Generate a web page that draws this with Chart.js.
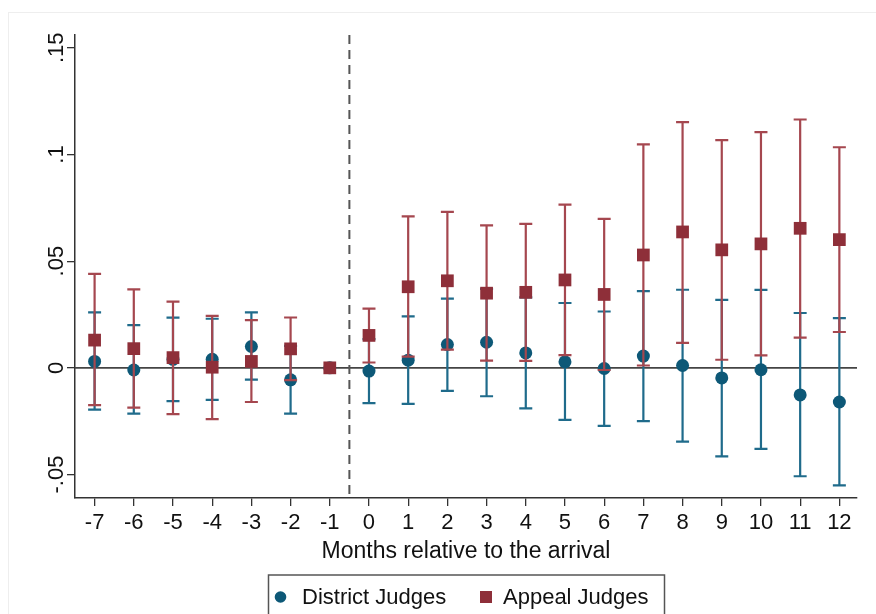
<!DOCTYPE html>
<html>
<head>
<meta charset="utf-8">
<script src="https://cdn.jsdelivr.net/npm/chart.js@4"></script>
<style>
  html, body { margin: 0; padding: 0; background: #fff; }
  #wrap { width: 876px; height: 614px; }
</style>
</head>
<body>
<div id="wrap"><canvas id="chart" width="876" height="614"></canvas></div>
<script>
const months = [-7, -6, -5, -4, -3, -2, -1, 0, 1, 2, 3, 4, 5, 6, 7, 8, 9, 10, 11, 12];
const yTicks = [-0.05, 0, 0.05, 0.1, 0.15];

const districtCoef = [0.003, -0.001, 0.004, 0.004, 0.010, -0.0056, 0, -0.0015, 0.0036, 0.0109, 0.012, 0.007, 0.0028, -0.0003, 0.0055, 0.0011, -0.0047, -0.0009, -0.0127, -0.016];
const districtLow = [-0.0196, -0.0215, -0.0156, -0.015, -0.0055, -0.0215, 0, -0.0165, -0.0169, -0.0108, -0.0133, -0.019, -0.0244, -0.0272, -0.025, -0.0346, -0.0415, -0.038, -0.0508, -0.0551];
const districtHigh = [0.026, 0.020, 0.0235, 0.023, 0.026, 0.0103, 0, 0.0135, 0.0241, 0.0324, 0.037, 0.033, 0.0304, 0.0264, 0.036, 0.0366, 0.0319, 0.0365, 0.0257, 0.0233];

const appealCoef = [0.013, 0.009, 0.0048, 0.0003, 0.003, 0.0089, 0, 0.0152, 0.038, 0.0408, 0.035, 0.0354, 0.0412, 0.0344, 0.0529, 0.0637, 0.0553, 0.0581, 0.0654, 0.0601];
const appealLow = [-0.0175, -0.0186, -0.0217, -0.024, -0.016, -0.0058, 0, 0.0025, 0.0053, 0.0085, 0.0034, 0.0033, 0.006, -0.001, 0.0011, 0.0117, 0.0038, 0.0058, 0.0142, 0.0168];
const appealHigh = [0.044, 0.0368, 0.031, 0.0244, 0.0224, 0.0236, 0, 0.0278, 0.071, 0.0731, 0.0668, 0.0675, 0.0765, 0.0698, 0.1047, 0.1152, 0.1067, 0.1105, 0.1164, 0.1034];

const FONT = "'Liberation Sans', Arial, sans-serif";

// confidence intervals, drawn just before each dataset's markers
const ciBars = [
    { low: districtLow, high: districtHigh, color: '#1f6b8b' },
    { low: appealLow, high: appealHigh, color: '#a5474f' }
];

const refLines = {
    id: 'refLines',
    beforeDatasetsDraw(chart) {
        const { ctx, chartArea, scales } = chart;
        const y0 = scales.y.getPixelForValue(0);
        const xd = scales.x.getPixelForValue(-0.5);
        ctx.save();
        ctx.strokeStyle = '#444';
        ctx.lineWidth = 1.6;
        ctx.beginPath();
        ctx.moveTo(chartArea.left, y0);
        ctx.lineTo(chartArea.right, y0);
        ctx.stroke();
        ctx.setLineDash([9, 6]);
        ctx.lineWidth = 2;
        ctx.strokeStyle = '#555';
        ctx.beginPath();
        ctx.moveTo(xd, chartArea.top);
        ctx.lineTo(xd, chartArea.bottom);
        ctx.stroke();
        ctx.restore();
    },
    beforeDatasetDraw(chart, args) {
        const bars = ciBars[args.index];
        const { ctx, scales } = chart;
        ctx.save();
        ctx.strokeStyle = bars.color;
        ctx.lineWidth = 2.2;
        months.forEach((m, i) => {
            if (bars.low[i] === bars.high[i]) return;
            const x = scales.x.getPixelForValue(m);
            const yl = scales.y.getPixelForValue(bars.low[i]);
            const yh = scales.y.getPixelForValue(bars.high[i]);
            ctx.beginPath();
            ctx.moveTo(x, yl);
            ctx.lineTo(x, yh);
            ctx.moveTo(x - 6.5, yl);
            ctx.lineTo(x + 6.5, yl);
            ctx.moveTo(x - 6.5, yh);
            ctx.lineTo(x + 6.5, yh);
            ctx.stroke();
        });
        ctx.restore();
    },
    afterDraw(chart) {
        const { ctx } = chart;
        const ds = chart.data.datasets;
        ctx.save();
        // faint outer frame
        ctx.strokeStyle = '#eeeeee';
        ctx.lineWidth = 1;
        ctx.strokeRect(8.5, 12.5, 880, 620);

        // legend with frame, cut by the bottom edge like the original
        const top = chart.chartArea.bottom + 77;
        const cy = top + 22;
        ctx.strokeStyle = '#555';
        ctx.lineWidth = 1.5;
        ctx.strokeRect(268.5, top, 396, 60);

        ctx.fillStyle = ds[0].backgroundColor;
        ctx.beginPath();
        ctx.arc(280.5, cy, 5.8, 0, Math.PI * 2);
        ctx.fill();
        ctx.fillStyle = ds[1].backgroundColor;
        ctx.fillRect(480, cy - 6, 12, 12);

        ctx.fillStyle = '#111';
        ctx.font = '22px ' + FONT;
        ctx.textBaseline = 'middle';
        ctx.textAlign = 'left';
        ctx.fillText(ds[0].label, 302, cy + 1);
        ctx.fillText(ds[1].label, 503, cy + 1);
        ctx.restore();
    }
};

new Chart(document.getElementById('chart').getContext('2d'), {
    type: 'scatter',
    data: {
        datasets: [
            {
                label: 'District Judges',
                data: months.map((m, i) => ({ x: m, y: districtCoef[i] })),
                pointStyle: 'circle',
                pointRadius: 6.5,
                backgroundColor: '#0d5877',
                borderColor: '#0d5877',
                borderWidth: 0,
                order: 1
            },
            {
                label: 'Appeal Judges',
                data: months.map((m, i) => ({ x: m, y: appealCoef[i] })),
                pointStyle: 'rect',
                pointRadius: 9,
                backgroundColor: '#8e2f39',
                borderColor: '#8e2f39',
                borderWidth: 0,
                order: 0
            }
        ]
    },
    options: {
        responsive: false,
        animation: false,
        layout: { padding: { top: 35, right: 19, left: 0, bottom: 40 } },
        plugins: {
            tooltip: { enabled: false },
            legend: { display: false }
        },
        scales: {
            x: {
                type: 'linear',
                min: -7.5,
                max: 12.45,
                afterBuildTicks: scale => { scale.ticks = months.map(v => ({ value: v })); },
                afterFit: scale => { scale.height = 76; },
                grid: { drawOnChartArea: false, drawTicks: true, tickLength: 8, color: '#333', lineWidth: 1.3 },
                border: { display: true, color: '#333', width: 1.5 },
                ticks: {
                    color: '#111',
                    padding: 4,
                    maxRotation: 0,
                    font: { family: FONT, size: 22 },
                    callback: v => String(v)
                },
                title: {
                    display: true,
                    text: 'Months relative to the arrival',
                    color: '#111',
                    padding: { top: 0, bottom: 9 },
                    font: { family: FONT, size: 23 }
                }
            },
            y: {
                type: 'linear',
                min: -0.061,
                max: 0.156,
                afterBuildTicks: scale => { scale.ticks = yTicks.map(v => ({ value: v })); },
                afterFit: scale => { scale.width = 75; },
                grid: { drawOnChartArea: false, drawTicks: true, tickLength: 8, color: '#333', lineWidth: 1.3 },
                border: { display: true, color: '#333', width: 1.5 },
                ticks: {
                    color: '#111',
                    padding: -9,
                    minRotation: 90,
                    maxRotation: 90,
                    crossAlign: 'center',
                    font: { family: FONT, size: 22 },
                    callback: v => {
                        if (v === 0) return '0';
                        const s = String(Math.round(v * 100) / 100);
                        return s.replace('0.', '.');
                    }
                }
            }
        }
    },
    plugins: [refLines]
});
</script>
</body>
</html>
